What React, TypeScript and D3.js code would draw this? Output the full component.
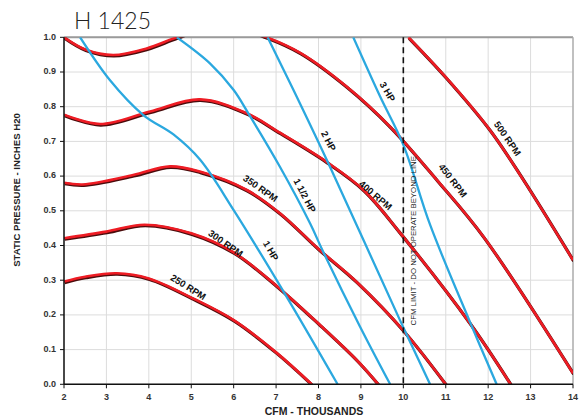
import React from "react";
import * as d3 from "d3";

// fan curves: [cfm thousands, static pressure in. H2O]
const rpm250 = [[2, 0.296], [2.5, 0.31], [3.24, 0.32], [4, 0.305], [5, 0.25], [6, 0.185], [7, 0.092], [7.84, 0]];
const rpm300 = [[2, 0.421], [3, 0.44], [3.9, 0.46], [5, 0.435], [6, 0.38], [7, 0.285], [8, 0.175], [8.9, 0.07], [9.41, 0]];
const rpm350 = [[2, 0.581], [2.45, 0.576], [3.63, 0.603], [4.5, 0.628], [5.2, 0.613], [6.31, 0.56], [7.09, 0.493], [8.0, 0.39], [8.9, 0.295], [10, 0.155], [11, 0]];
const rpm400 = [[2, 0.777], [2.85, 0.75], [4.03, 0.786], [5.2, 0.821], [6.31, 0.781], [7.09, 0.725], [8.19, 0.641], [9.06, 0.56], [9.9, 0.44], [11.57, 0.176], [12.53, 0]];
const rpm450 = [[2, 1.0], [2.5, 0.965], [3.16, 0.949], [3.95, 0.968], [4.66, 1.0], [5.7, 1.04], [6.78, 1.0], [7.57, 0.955], [8.66, 0.858], [9.69, 0.742], [10.79, 0.589], [11.89, 0.425], [14, 0.032]];
const rpm500 = [[10.12, 1.0], [11, 0.885], [12.04, 0.733], [12.83, 0.589], [14, 0.358]];

const hp1 = [[2.38, 1.0], [3.08, 0.877], [3.87, 0.776], [4.58, 0.72], [5.21, 0.647], [6.0, 0.502], [7.25, 0.252], [8.45, 0]];
const hp15 = [[4.66, 1.0], [5.44, 0.925], [6.0, 0.848], [6.35, 0.78], [7.09, 0.627], [7.8, 0.464], [8.11, 0.382], [8.98, 0.166], [9.69, 0]];
const hp2 = [[6.8, 1.0], [7.41, 0.848], [8.27, 0.627], [9.92, 0.185], [10.63, 0]];
const hp3 = [[8.82, 1.0], [9.45, 0.83], [10.0, 0.69], [10.63, 0.46], [11.57, 0.18], [12.2, 0]];

const rpmCurves = [rpm250, rpm300, rpm350, rpm400, rpm450, rpm500];
const hpCurves = [hp1, hp15, hp2, hp3];

// labels: text, centre on chart (data units), rotation
const curveLabels = [
  { text: "250 RPM", x: 4.92, y: 0.278, angle: 32 },
  { text: "300 RPM", x: 5.8, y: 0.404, angle: 35 },
  { text: "350 RPM", x: 6.62, y: 0.563, angle: 35 },
  { text: "1 HP", x: 6.86, y: 0.384, angle: 60 },
  { text: "1 1/2 HP", x: 7.66, y: 0.543, angle: 62 },
  { text: "2 HP", x: 8.22, y: 0.7, angle: 62 },
  { text: "400 RPM", x: 9.33, y: 0.543, angle: 40 },
  { text: "3 HP", x: 9.61, y: 0.842, angle: 60 },
  { text: "450 RPM", x: 11.15, y: 0.586, angle: 52 },
  { text: "500 RPM", x: 12.44, y: 0.707, angle: 55 },
];

const xTicks = [2, 3, 4, 5, 6, 7, 8, 9, 10, 11, 12, 13, 14];
const yTicks = [0, 0.1, 0.2, 0.3, 0.4, 0.5, 0.6, 0.7, 0.8, 0.9, 1.0];
const cfmLimit = 10;

const width = 579;
const height = 419;
const left = 64;
const right = 573;
const top = 37.3;
const bottom = 384.3;

const font = "'Liberation Sans', Arial, sans-serif";

export default function App() {
  const x = d3.scaleLinear().domain([2, 14]).range([left, right]);
  const y = d3.scaleLinear().domain([0, 1]).range([bottom, top]);
  const line = d3
    .line<number[]>()
    .x((d) => x(d[0]))
    .y((d) => y(d[1]))
    .curve(d3.curveCatmullRom.alpha(0.5));

  return (
    <svg
      width={width}
      height={height}
      style={{ position: "absolute", left: 0, top: 0, background: "#fff" }}
    >
      <defs>
        <clipPath id="plot">
          <rect x={left} y={top} width={right - left} height={bottom - top} />
        </clipPath>
      </defs>

      {/* grid */}
      {xTicks.map((t) => (
        <line key={"gx" + t} x1={x(t)} x2={x(t)} y1={top} y2={bottom} stroke="#dcdcdc" strokeWidth={1} />
      ))}
      {yTicks.map((t) => (
        <line key={"gy" + t} x1={left} x2={right} y1={y(t)} y2={y(t)} stroke="#dcdcdc" strokeWidth={1} />
      ))}
      <line x1={left} x2={right} y1={top} y2={top} stroke="#9a9a9a" strokeWidth={2} />
      <line x1={right} x2={right} y1={top} y2={bottom} stroke="#b0b0b0" strokeWidth={1.5} />

      <g clipPath="url(#plot)">
        {rpmCurves.map((c, i) => (
          <g key={"r" + i}>
            <path d={line(c) || ""} fill="none" stroke="#4a0c0c" strokeWidth={3.2} transform="translate(0.7,1)" />
            <path d={line(c) || ""} fill="none" stroke="#ee1c24" strokeWidth={2.6} />
          </g>
        ))}
        {hpCurves.map((c, i) => (
          <path key={"h" + i} d={line(c) || ""} fill="none" stroke="#2ba8df" strokeWidth={2.3} />
        ))}
      </g>

      {/* cfm limit */}
      <line
        x1={x(cfmLimit)}
        x2={x(cfmLimit)}
        y1={top}
        y2={bottom}
        stroke="#111"
        strokeWidth={1.6}
        strokeDasharray="6,4"
      />
      <text
        transform={`translate(${x(cfmLimit) + 13},${(top + bottom) / 2 + 30}) rotate(-90)`}
        textAnchor="middle"
        fontFamily={font}
        fontSize={7.8}
        fill="#222"
      >
        CFM LIMIT - DO NOT OPERATE BEYOND LINE
      </text>

      {curveLabels.map((l) => (
        <text
          key={l.text}
          transform={`translate(${x(l.x)},${y(l.y)}) rotate(${l.angle})`}
          textAnchor="middle"
          dominantBaseline="middle"
          fontFamily={font}
          fontWeight="bold"
          fontSize={9.5}
          fill="#111"
        >
          {l.text}
        </text>
      ))}

      {/* axes */}
      <line x1={left} x2={left} y1={top} y2={bottom} stroke="#111" strokeWidth={1.5} />
      <line x1={left} x2={right} y1={bottom} y2={bottom} stroke="#111" strokeWidth={1.5} />
      {yTicks.map((t) => (
        <g key={"yt" + t}>
          <line x1={left - 4} x2={left} y1={y(t)} y2={y(t)} stroke="#111" strokeWidth={1} />
          <text
            x={left - 8}
            y={y(t)}
            textAnchor="end"
            dominantBaseline="middle"
            fontFamily={font}
            fontWeight="bold"
            fontSize={9}
            fill="#333"
          >
            {t.toFixed(1)}
          </text>
        </g>
      ))}
      {xTicks.map((t) => (
        <g key={"xt" + t}>
          <line x1={x(t)} x2={x(t)} y1={bottom} y2={bottom + 4} stroke="#111" strokeWidth={1} />
          <text
            x={x(t)}
            y={bottom + 16}
            textAnchor="middle"
            fontFamily={font}
            fontWeight="bold"
            fontSize={9}
            fill="#333"
          >
            {t}
          </text>
        </g>
      ))}

      <text
        x={314}
        y={415}
        textAnchor="middle"
        fontFamily={font}
        fontWeight="bold"
        fontSize={10.5}
        fill="#222"
      >
        CFM - THOUSANDS
      </text>
      <text
        transform="translate(20,190) rotate(-90)"
        textAnchor="middle"
        fontFamily={font}
        fontWeight="bold"
        fontSize={9.6}
        fill="#222"
      >
        STATIC PRESSURE - INCHES H20
      </text>

      <text x={74} y={29} fontFamily="Lato, 'Open Sans', sans-serif" fontWeight={300} fontSize={23} fill="#222">
        H 1425
      </text>
    </svg>
  );
}
